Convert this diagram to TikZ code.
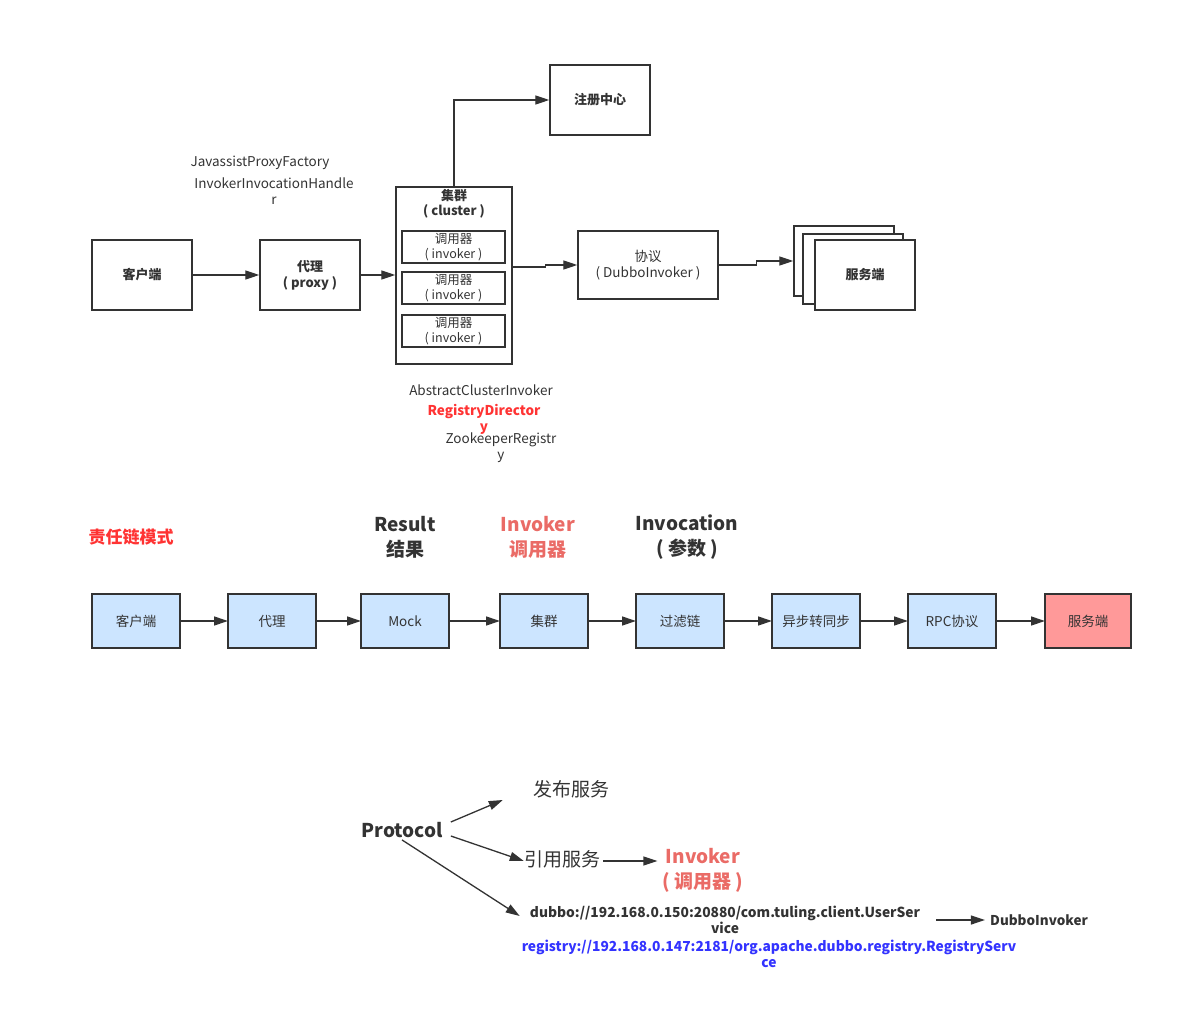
\documentclass[tikz,border=0pt]{standalone}
\usepackage{fontspec}
\setmainfont{Noto Sans CJK SC}
\usetikzlibrary{positioning, arrows.meta}
\definecolor{ink}{HTML}{333333}
\definecolor{boxblue}{HTML}{CCE5FF}
\definecolor{boxred}{HTML}{FF9999}
\definecolor{salmon}{HTML}{EA6B66}
\definecolor{alert}{HTML}{FF3333}
\definecolor{linkblue}{HTML}{3333FF}
\newcommand{\fs}[2]{\fontsize{#1}{#2}\selectfont}
\tikzset{
    arr/.style={-{Triangle[length=14pt,width=9pt]}, draw=ink, line width=1.3pt}, % arrows
    block/.style={draw=ink, line width=1.4pt, fill=white, minimum width=100pt,
        minimum height=70pt, inner sep=0pt, text=ink, align=center,
        font=\bfseries\fs{13}{16}},
    inv/.style={draw=ink, line width=1.4pt, minimum width=103pt, minimum height=32pt,
        inner sep=0pt, text=ink, align=center, font=\fs{12.5}{15}},
    step box/.style={draw=ink, line width=1.4pt, fill=boxblue, minimum width=88pt,
        minimum height=54pt, inner sep=0pt, outer sep=0pt, text=ink, font=\fs{13.5}{16}},
    note/.style={inner sep=0pt, text=ink, align=center, font=\fs{13.5}{16}},
    head/.style={inner sep=0pt, text=ink, align=center, font=\bfseries\fs{19}{25}},
}

\begin{document}
\begin{tikzpicture}[x=1pt, y=-1pt, node distance=48pt]
    \useasboundingbox (0,0) rectangle (1192,1032);

    % top: call path
    \node[block] (client) at (142,275) {客户端};
    \node[block] (proxy) at (310,275) {代理\\( proxy )};
    \node[draw=ink, line width=1.4pt, minimum width=116pt, minimum height=177pt] (cluster) at (454,275.5) {};
    \node[note, font=\bfseries\fs{13}{15}] (clustertitle) at (454,204) {集群\\( cluster )};
    \node[inv] (invA) at (453.5,247) {调用器\\( invoker )};
    \node[inv] (invB) at (453.5,288) {调用器\\( invoker )};
    \node[inv] (invC) at (453.5,331) {调用器\\( invoker )};
    \node[block] (registry) at (600,100) {注册中心};
    \node[block, font=\fs{13.5}{16}, minimum width=140pt, minimum height=68pt] (dubboproto) at (648,265) {协议\\( DubboInvoker )};
    \node[block] (srvA) at (844,261) {};
    \node[block] (srvB) at (853,269) {};
    \node[block] (srv) at (865,275) {服务端};

    \node[note] (factory) at (260,163) {JavassistProxyFactory};
    \node[note] (handler) at (274,191) {InvokerInvocationHandle\\r};
    \node[note] (abstract) at (481,390) {AbstractClusterInvoker};
    \node[note, text=alert, font=\bfseries\fs{13.5}{16}] (directory) at (484,419) {RegistryDirector\\y};
    \node[note] (zk) at (501,448) {ZookeeperRegistr\\y};

    \draw[arr] (client) -- (proxy);
    \draw[arr] (proxy.east) -- (cluster.west |- proxy.east);
    \draw[arr] (cluster.north) |- (registry.west);
    \draw[arr] ([yshift=8.5pt]cluster.east) -- ++(33,0) |- (dubboproto.west);
    \draw[arr] (dubboproto.east) -- ++(38,0) |- (srvA.west);

    % middle: chain of responsibility
    \node[head, text=alert, font=\bfseries\fs{17}{20}] (pattern) at (131,537) {责任链模式};
    \node[head] (result) at (405,537) {Result\\结果};
    \node[head, text=salmon] (invoker) at (538,537) {Invoker\\调用器};
    \node[head] (invocation) at (687,537) {Invocation\\( 参数 )};

    \node[step box] (c1) at (136,621) {客户端};
    \node[step box, right=of c1] (c2) {代理};
    \node[step box, right=45pt of c2] (c3) {Mock};
    \node[step box, right=51pt of c3] (c4) {集群};
    \node[step box, right=of c4] (c5) {过滤链};
    \node[step box, right=of c5] (c6) {异步转同步};
    \node[step box, right=of c6] (c7) {RPC协议};
    \node[step box, fill=boxred, minimum width=86pt, right=49pt of c7] (c8) {服务端};

    \foreach \a/\b in {c1/c2, c2/c3, c3/c4, c4/c5, c5/c6, c6/c7, c7/c8}
        \draw[arr] (\a) -- (\b);

    % bottom: protocol
    \node[head] (protocol) at (402,830) {Protocol};
    \node[head, font=\fs{19}{25}] (export) at (571,789) {发布服务};
    \node[head, font=\fs{19}{25}] (refer) at (562,859) {引用服务};
    \node[head, text=salmon] (refinvoker) at (703,870) {Invoker\\( 调用器 )};
    \node[note, font=\bfseries\fs{13.8}{16}] (url) at (725,920) {dubbo://192.168.0.150:20880/com.tuling.client.UserSer\\vice};
    \node[note, font=\bfseries\fs{13.5}{16}] (dubboinv) at (1039,920) {DubboInvoker};
    \node[note, text=linkblue, font=\bfseries\fs{13.8}{16}] (regurl) at (769,954) {registry://192.168.0.147:2181/org.apache.dubbo.registry.RegistryServ\\ce};

    \draw[arr] ([xshift=8pt,yshift=8pt]protocol.east) -- ([xshift=-30pt,yshift=-11pt]export.west);
    \draw[arr] ([xshift=8pt,yshift=-6pt]protocol.east) -- ([yshift=-2pt]refer.west);
    \draw[arr] ([yshift=-2pt]protocol.south) -- ([xshift=-10pt,yshift=4pt]url.west);
    \draw[arr] ([xshift=3pt,yshift=-2pt]refer.east) -- ([xshift=-5pt,yshift=-2pt]refer.east -| refinvoker.west);
    \draw[arr] ([xshift=16pt]url.east) -- ([xshift=-5pt]dubboinv.west);
\end{tikzpicture}
\end{document}
